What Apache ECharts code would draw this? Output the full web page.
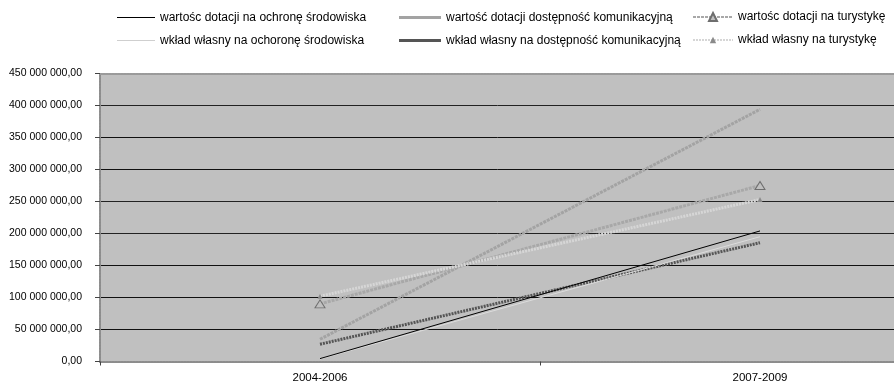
<!DOCTYPE html>
<html>
<head>
<meta charset="utf-8">
<script src="https://cdn.jsdelivr.net/npm/echarts@6/dist/echarts.min.js"></script>
<style>
  html, body { margin: 0; padding: 0; background: #fff; }
  #chart { width: 894px; height: 385px; }
</style>
</head>
<body>
<div id="chart"></div>
<script>
// Okresy programowania
var categories = ['2004-2006', '2007-2009'];

// Wartości w złotych
var dotacjaOchrona = [4500000, 204000000];
var wkladOchrona = [4000000, 195000000];
var dotacjaKomunikacja = [34700000, 394000000];
var wkladKomunikacja = [27000000, 185600000];
var dotacjaTurystyka = [90000000, 275000000];
var wkladTurystyka = [102000000, 253000000];

// Oś wartości
var yMin = 0;
var yMax = 450000000;
var yStep = 50000000;

var names = [
  'wartośc dotacji na ochronę środowiska',
  'wkład własny na ochoronę środowiska',
  'wartość dotacji dostępność komunikacyjną',
  'wkład własny na dostępność komunikacyjną',
  'wartośc dotacji na turystykę',
  'wkład własny na turystykę'
];

function formatPl(v) {
  var s = Math.round(v).toString().replace(/\B(?=(\d{3})+(?!\d))/g, ' ');
  return s + ',00';
}

var font = 'Liberation Sans, Arial, sans-serif';

// One legend entry per component so each can sit at its own spot.
// The entry box is as tall as its text (about 14px), centred on centerY;
// odd icon heights get a half-pixel nudge so thin samples stay crisp.
function legendAt(name, left, centerY, width, h, icon) {
  var o = {
    data: [name],
    left: left,
    top: centerY - 7 + (h % 2 ? 0.5 : 0),
    padding: 0,
    itemWidth: width,
    itemHeight: h,
    itemGap: 0,
    textStyle: { fontFamily: font, fontSize: 12, color: '#000' },
    selectedMode: false
  };
  if (icon) o.icon = icon;
  return o;
}

var chart = echarts.init(document.getElementById('chart'), null, { renderer: 'canvas' });

chart.setOption({
  animation: false,
  backgroundColor: '#fff',
  textStyle: { fontFamily: font },
  legend: [
    legendAt(names[0], 117, 18, 38, 1, 'rect'),
    legendAt(names[1], 117, 41, 38, 1, 'rect'),
    legendAt(names[2], 399, 18, 42, 3, 'rect'),
    legendAt(names[3], 399, 41, 42, 3, 'rect'),
    legendAt(names[4], 692, 18, 40, 10),
    legendAt(names[5], 692, 41, 40, 8)
  ],
  grid: {
    left: 100,
    top: 73.5,
    width: 880,
    height: 288,
    outerBoundsMode: 'none',
    containLabel: false,
    show: true,
    backgroundColor: '#c0c0c0',
    borderWidth: 0
  },
  xAxis: [{
    type: 'category',
    data: categories,
    boundaryGap: true,
    axisLine: { lineStyle: { color: '#8c8c8c', width: 2, type: [2, 1] } },
    axisTick: { show: true, length: 4, lineStyle: { color: '#444' } },
    axisLabel: { color: '#000', fontSize: 11.5, fontFamily: font, margin: 10 },
    splitLine: { show: false }
  }, {
    type: 'category',
    data: categories,
    position: 'top',
    axisLine: { lineStyle: { color: '#9a9a9a', width: 2, type: [2, 1] } },
    axisTick: { show: false },
    axisLabel: { show: false }
  }],
  yAxis: {
    type: 'value',
    min: yMin,
    max: yMax,
    interval: yStep,
    axisLine: { show: true, lineStyle: { color: '#8c8c8c', width: 2, type: [2, 1] } },
    axisTick: { show: true, length: 5, lineStyle: { color: '#444' } },
    axisLabel: {
      color: '#000', fontSize: 10.5, fontFamily: font, margin: 18,
      formatter: formatPl
    },
    splitLine: {
      show: true,
      lineStyle: {
        color: ['#c0c0c0', '#111', '#111', '#111', '#222', '#222', '#111', '#111', '#222', '#c0c0c0'],
        width: 1
      }
    }
  },
  series: [
    {
      name: names[0], type: 'line', data: dotacjaOchrona,
      symbol: 'none', z: 6,
      lineStyle: { color: '#000', width: 1 },
      itemStyle: { color: '#000' }
    },
    {
      name: names[1], type: 'line', data: wkladOchrona,
      symbol: 'none', z: 5,
      lineStyle: { color: '#dcdcdc', width: 1 },
      itemStyle: { color: '#cfcfcf' }
    },
    {
      name: names[2], type: 'line', data: dotacjaKomunikacja,
      symbol: 'none', z: 3,
      lineStyle: { color: '#a3a3a3', width: 3, type: [3, 1] },
      itemStyle: { color: '#a3a3a3' }
    },
    {
      name: names[3], type: 'line', data: wkladKomunikacja,
      symbol: 'none', z: 4,
      lineStyle: { color: '#555', width: 3, type: [2, 1] },
      itemStyle: { color: '#555' }
    },
    {
      name: names[4], type: 'line', data: dotacjaTurystyka,
      symbol: 'triangle', symbolSize: [10, 8], z: 3,
      lineStyle: { color: '#a8a8a8', width: 3, type: [3, 1] },
      itemStyle: { color: '#c0c0c0', borderColor: '#6e6e6e', borderWidth: 1 }
    },
    {
      name: names[5], type: 'line', data: wkladTurystyka,
      symbol: 'triangle', symbolSize: [5, 5], z: 3,
      lineStyle: { color: '#d6d6d6', width: 3, type: [2, 1] },
      itemStyle: { color: '#8a8a8a' }
    }
  ]
});
</script>
</body>
</html>
